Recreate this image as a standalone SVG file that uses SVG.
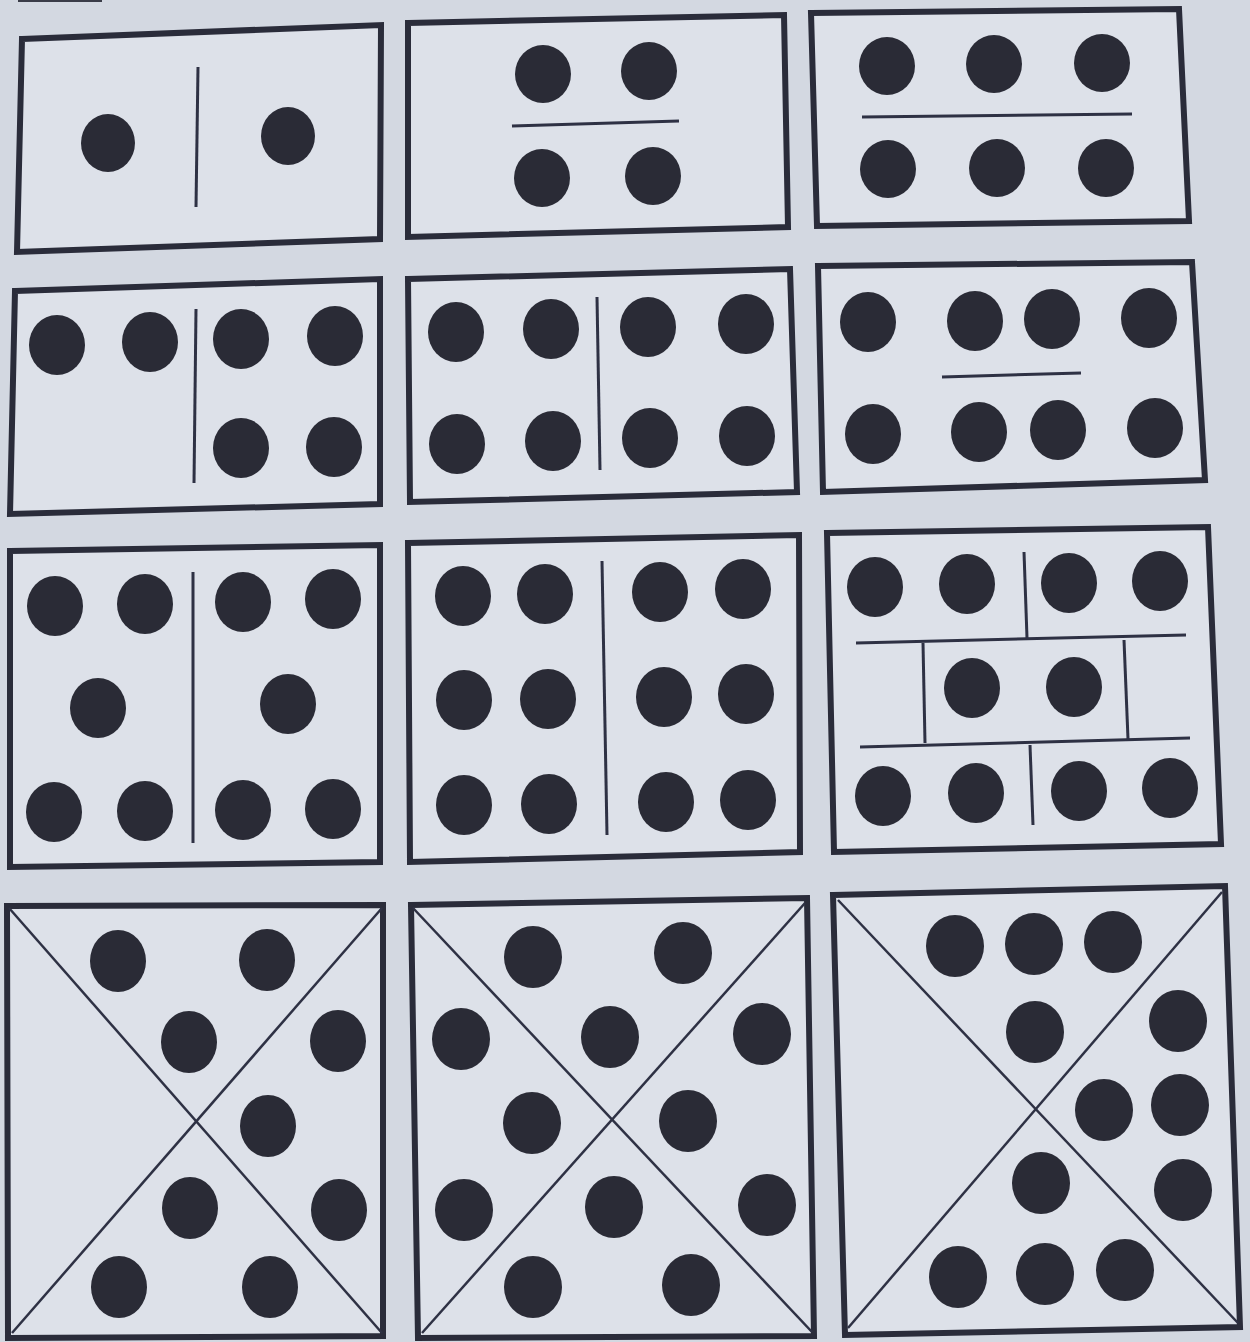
<svg xmlns="http://www.w3.org/2000/svg" width="1250" height="1342" viewBox="0 0 1250 1342">
<style>
.bg{fill:#d3d8e1}
.card{fill:#dde1e9;stroke:#2a2c3a;stroke-width:6;stroke-linejoin:miter}
.d{fill:#2a2b36}
.sep{stroke:#2e3144;stroke-width:3;fill:none;stroke-linecap:butt}
.x{stroke:#2e3144;stroke-width:2.5;fill:none}
</style>
<rect class="bg" x="0" y="0" width="1250" height="1342"/>
<rect x="18" y="0" width="84" height="2" fill="#3a3c48"/>

<g id="card1">
<polygon class="card" points="22,39 381,25 380,239 17,252"/>
<line class="sep" x1="198" y1="67" x2="196" y2="207"/>
<ellipse class="d" cx="108" cy="143" rx="27" ry="29"/>
<ellipse class="d" cx="288" cy="136" rx="27" ry="29"/>
</g>

<g id="card2">
<polygon class="card" points="408,23 784,15 788,227 408,237"/>
<line class="sep" x1="512" y1="126" x2="679" y2="121"/>
<ellipse class="d" cx="543" cy="74" rx="28" ry="29"/>
<ellipse class="d" cx="649" cy="71" rx="28" ry="29"/>
<ellipse class="d" cx="542" cy="178" rx="28" ry="29"/>
<ellipse class="d" cx="653" cy="176" rx="28" ry="29"/>
</g>

<g id="card3">
<polygon class="card" points="811,13 1179,9 1189,221 817,226"/>
<line class="sep" x1="862" y1="117" x2="1132" y2="114"/>
<ellipse class="d" cx="887" cy="66" rx="28" ry="29"/>
<ellipse class="d" cx="994" cy="64" rx="28" ry="29"/>
<ellipse class="d" cx="1102" cy="63" rx="28" ry="29"/>
<ellipse class="d" cx="888" cy="169" rx="28" ry="29"/>
<ellipse class="d" cx="997" cy="168" rx="28" ry="29"/>
<ellipse class="d" cx="1106" cy="168" rx="28" ry="29"/>
</g>

<g id="card4">
<polygon class="card" points="15,291 380,279 380,504 10,514"/>
<line class="sep" x1="196" y1="309" x2="194" y2="483"/>
<ellipse class="d" cx="57" cy="345" rx="28" ry="30"/>
<ellipse class="d" cx="150" cy="342" rx="28" ry="30"/>
<ellipse class="d" cx="241" cy="339" rx="28" ry="30"/>
<ellipse class="d" cx="335" cy="336" rx="28" ry="30"/>
<ellipse class="d" cx="241" cy="448" rx="28" ry="30"/>
<ellipse class="d" cx="334" cy="447" rx="28" ry="30"/>
</g>

<g id="card5">
<polygon class="card" points="408,279 790,269 797,492 410,502"/>
<line class="sep" x1="597" y1="297" x2="600" y2="470"/>
<ellipse class="d" cx="456" cy="332" rx="28" ry="30"/>
<ellipse class="d" cx="551" cy="329" rx="28" ry="30"/>
<ellipse class="d" cx="648" cy="327" rx="28" ry="30"/>
<ellipse class="d" cx="746" cy="324" rx="28" ry="30"/>
<ellipse class="d" cx="457" cy="444" rx="28" ry="30"/>
<ellipse class="d" cx="553" cy="441" rx="28" ry="30"/>
<ellipse class="d" cx="650" cy="438" rx="28" ry="30"/>
<ellipse class="d" cx="747" cy="436" rx="28" ry="30"/>
</g>

<g id="card6">
<polygon class="card" points="818,266 1192,262 1205,480 823,492"/>
<line class="sep" x1="942" y1="377" x2="1081" y2="373"/>
<ellipse class="d" cx="868" cy="322" rx="28" ry="30"/>
<ellipse class="d" cx="975" cy="321" rx="28" ry="30"/>
<ellipse class="d" cx="1052" cy="319" rx="28" ry="30"/>
<ellipse class="d" cx="1149" cy="318" rx="28" ry="30"/>
<ellipse class="d" cx="873" cy="434" rx="28" ry="30"/>
<ellipse class="d" cx="979" cy="432" rx="28" ry="30"/>
<ellipse class="d" cx="1058" cy="430" rx="28" ry="30"/>
<ellipse class="d" cx="1155" cy="428" rx="28" ry="30"/>
</g>

<g id="card7">
<polygon class="card" points="10,551 380,545 380,862 10,867"/>
<line class="sep" x1="193" y1="572" x2="193" y2="843"/>
<ellipse class="d" cx="55" cy="606" rx="28" ry="30"/>
<ellipse class="d" cx="145" cy="604" rx="28" ry="30"/>
<ellipse class="d" cx="243" cy="602" rx="28" ry="30"/>
<ellipse class="d" cx="333" cy="599" rx="28" ry="30"/>
<ellipse class="d" cx="98" cy="708" rx="28" ry="30"/>
<ellipse class="d" cx="288" cy="704" rx="28" ry="30"/>
<ellipse class="d" cx="54" cy="812" rx="28" ry="30"/>
<ellipse class="d" cx="145" cy="811" rx="28" ry="30"/>
<ellipse class="d" cx="243" cy="810" rx="28" ry="30"/>
<ellipse class="d" cx="333" cy="809" rx="28" ry="30"/>
</g>

<g id="card8">
<polygon class="card" points="408,543 799,535 800,852 410,862"/>
<line class="sep" x1="602" y1="561" x2="607" y2="835"/>
<ellipse class="d" cx="463" cy="596" rx="28" ry="30"/>
<ellipse class="d" cx="545" cy="594" rx="28" ry="30"/>
<ellipse class="d" cx="660" cy="592" rx="28" ry="30"/>
<ellipse class="d" cx="743" cy="589" rx="28" ry="30"/>
<ellipse class="d" cx="464" cy="700" rx="28" ry="30"/>
<ellipse class="d" cx="548" cy="699" rx="28" ry="30"/>
<ellipse class="d" cx="664" cy="697" rx="28" ry="30"/>
<ellipse class="d" cx="746" cy="694" rx="28" ry="30"/>
<ellipse class="d" cx="464" cy="805" rx="28" ry="30"/>
<ellipse class="d" cx="549" cy="804" rx="28" ry="30"/>
<ellipse class="d" cx="666" cy="802" rx="28" ry="30"/>
<ellipse class="d" cx="748" cy="800" rx="28" ry="30"/>
</g>

<g id="card9">
<polygon class="card" points="827,533 1208,527 1221,844 834,852"/>
<line class="sep" x1="1024" y1="552" x2="1027" y2="638"/>
<line class="sep" x1="856" y1="643" x2="1186" y2="635"/>
<line class="sep" x1="923" y1="643" x2="925" y2="743"/>
<line class="sep" x1="1124" y1="640" x2="1128" y2="739"/>
<line class="sep" x1="860" y1="747" x2="1190" y2="738"/>
<line class="sep" x1="1030" y1="745" x2="1033" y2="825"/>
<ellipse class="d" cx="875" cy="587" rx="28" ry="30"/>
<ellipse class="d" cx="967" cy="584" rx="28" ry="30"/>
<ellipse class="d" cx="1069" cy="583" rx="28" ry="30"/>
<ellipse class="d" cx="1160" cy="581" rx="28" ry="30"/>
<ellipse class="d" cx="972" cy="688" rx="28" ry="30"/>
<ellipse class="d" cx="1074" cy="687" rx="28" ry="30"/>
<ellipse class="d" cx="883" cy="796" rx="28" ry="30"/>
<ellipse class="d" cx="976" cy="793" rx="28" ry="30"/>
<ellipse class="d" cx="1079" cy="791" rx="28" ry="30"/>
<ellipse class="d" cx="1170" cy="788" rx="28" ry="30"/>
</g>

<g id="card10">
<polygon class="card" points="7,906 383,905 383,1336 8,1338"/>
<line class="x" x1="9" y1="908" x2="382" y2="1333"/>
<line class="x" x1="382" y1="908" x2="12" y2="1333"/>
<ellipse class="d" cx="118" cy="961" rx="28" ry="31"/>
<ellipse class="d" cx="267" cy="960" rx="28" ry="31"/>
<ellipse class="d" cx="189" cy="1042" rx="28" ry="31"/>
<ellipse class="d" cx="338" cy="1041" rx="28" ry="31"/>
<ellipse class="d" cx="268" cy="1126" rx="28" ry="31"/>
<ellipse class="d" cx="190" cy="1208" rx="28" ry="31"/>
<ellipse class="d" cx="339" cy="1210" rx="28" ry="31"/>
<ellipse class="d" cx="119" cy="1287" rx="28" ry="31"/>
<ellipse class="d" cx="270" cy="1287" rx="28" ry="31"/>
</g>

<g id="card11">
<polygon class="card" points="411,905 807,898 814,1336 418,1338"/>
<line class="x" x1="413" y1="908" x2="812" y2="1332"/>
<line class="x" x1="805" y1="903" x2="422" y2="1333"/>
<ellipse class="d" cx="533" cy="957" rx="29" ry="31"/>
<ellipse class="d" cx="683" cy="953" rx="29" ry="31"/>
<ellipse class="d" cx="461" cy="1039" rx="29" ry="31"/>
<ellipse class="d" cx="610" cy="1037" rx="29" ry="31"/>
<ellipse class="d" cx="762" cy="1034" rx="29" ry="31"/>
<ellipse class="d" cx="532" cy="1123" rx="29" ry="31"/>
<ellipse class="d" cx="688" cy="1121" rx="29" ry="31"/>
<ellipse class="d" cx="464" cy="1210" rx="29" ry="31"/>
<ellipse class="d" cx="614" cy="1207" rx="29" ry="31"/>
<ellipse class="d" cx="767" cy="1205" rx="29" ry="31"/>
<ellipse class="d" cx="533" cy="1287" rx="29" ry="31"/>
<ellipse class="d" cx="691" cy="1285" rx="29" ry="31"/>
</g>

<g id="card12">
<polygon class="card" points="833,895 1225,886 1240,1327 845,1335"/>
<line class="x" x1="838" y1="900" x2="1238" y2="1323"/>
<line class="x" x1="1222" y1="892" x2="848" y2="1328"/>
<ellipse class="d" cx="955" cy="946" rx="29" ry="31"/>
<ellipse class="d" cx="1034" cy="944" rx="29" ry="31"/>
<ellipse class="d" cx="1113" cy="942" rx="29" ry="31"/>
<ellipse class="d" cx="1035" cy="1032" rx="29" ry="31"/>
<ellipse class="d" cx="1178" cy="1021" rx="29" ry="31"/>
<ellipse class="d" cx="1104" cy="1110" rx="29" ry="31"/>
<ellipse class="d" cx="1180" cy="1105" rx="29" ry="31"/>
<ellipse class="d" cx="1041" cy="1183" rx="29" ry="31"/>
<ellipse class="d" cx="1183" cy="1190" rx="29" ry="31"/>
<ellipse class="d" cx="958" cy="1277" rx="29" ry="31"/>
<ellipse class="d" cx="1045" cy="1274" rx="29" ry="31"/>
<ellipse class="d" cx="1125" cy="1270" rx="29" ry="31"/>
</g>
</svg>
